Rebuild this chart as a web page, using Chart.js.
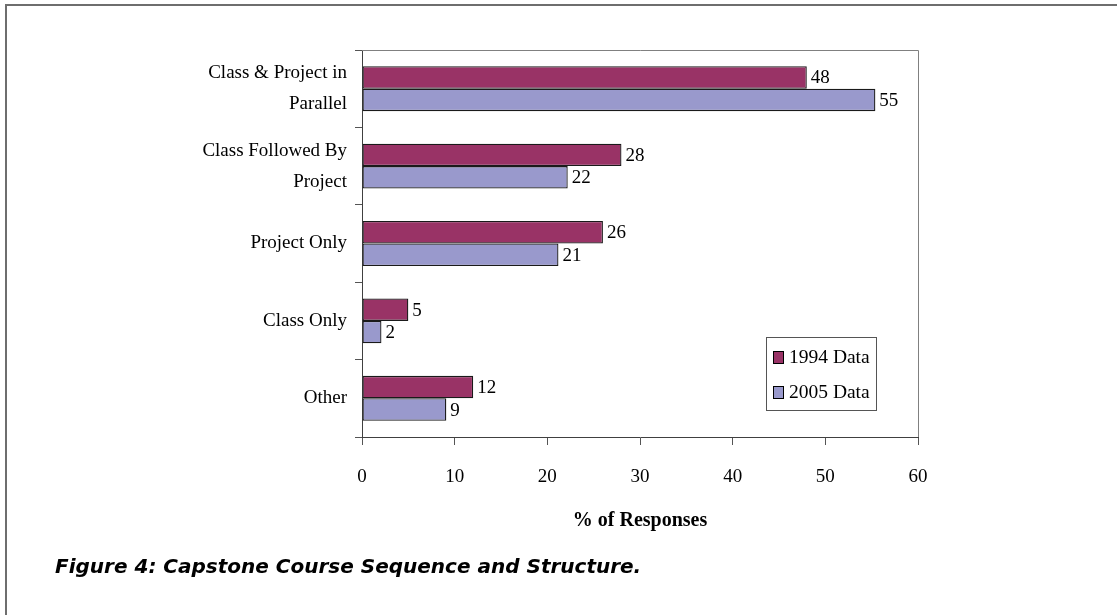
<!DOCTYPE html>
<html><head><meta charset="utf-8">
<script src="https://cdn.jsdelivr.net/npm/chart.js@4.4.0/dist/chart.umd.min.js"></script>
<style>html,body{margin:0;padding:0;background:#fff;} canvas{display:block}</style>
</head><body>
<canvas id="c" width="1117" height="615"></canvas>
<script>
const categories = [["Class & Project in", "Parallel"], ["Class Followed By", "Project"], "Project Only", "Class Only", "Other"];
const seriesNames = ["1994 Data", "2005 Data"];
const values1994 = [48, 28, 26, 5, 12];
const values2005 = [55.4, 22.2, 21.2, 2.1, 9.1];
const xMin = 0, xMax = 60, xStep = 10;
const xTitle = "% of Responses";
const caption = "Figure 4: Capstone Course Sequence and Structure.";
const seriesColors = ["#993366", "#9999CC"];

const SERIF = "'Liberation Serif', 'Times New Roman', serif";

const framePlugin = {
  id: 'frame',
  beforeDraw(chart) {
    const ctx = chart.ctx;
    ctx.save();
    ctx.fillStyle = '#fff';
    ctx.fillRect(0, 0, chart.width, chart.height);
    ctx.strokeStyle = '#6e6e6e';
    ctx.lineWidth = 2;
    ctx.beginPath();
    ctx.moveTo(6, chart.height);
    ctx.lineTo(6, 5);
    ctx.lineTo(chart.width, 5);
    ctx.stroke();
    ctx.restore();
  },
  afterDraw(chart) {
    const ctx = chart.ctx;
    const a = chart.chartArea;
    ctx.save();
    // plot area top/right border
    ctx.strokeStyle = '#808080';
    ctx.lineWidth = 1;
    ctx.beginPath();
    ctx.moveTo(a.left, a.top + 0.5);
    ctx.lineTo(a.right + 0.5, a.top + 0.5);
    ctx.lineTo(a.right + 0.5, a.bottom);
    ctx.stroke();
    // value labels
    ctx.fillStyle = '#000';
    ctx.font = "19px " + SERIF;
    ctx.textAlign = 'left';
    ctx.textBaseline = 'middle';
    chart.data.datasets.forEach((ds, di) => {
      const meta = chart.getDatasetMeta(di);
      meta.data.forEach((el, i) => {
        ctx.fillText(String(Math.round(ds.data[i])), el.x + 4, el.y + 1);
      });
    });
    // legend
    const lx = a.right - 152, ly = a.bottom - 100, lw = 110, lh = 73;
    ctx.strokeStyle = '#555';
    ctx.strokeRect(lx + 0.5, ly + 0.5, lw, lh);
    ctx.font = "19.5px " + SERIF;
    chart.data.datasets.forEach((ds, di) => {
      const cy = ly + 20 + di * 35;
      ctx.fillStyle = ds.backgroundColor;
      ctx.fillRect(lx + 7, cy - 6, 10, 12);
      ctx.strokeStyle = '#000';
      ctx.strokeRect(lx + 7.5, cy - 5.5, 10, 12);
      ctx.fillStyle = '#000';
      ctx.fillText(ds.label, lx + 23, cy + 1);
    });
    // caption
    ctx.font = "italic bold 20px 'DejaVu Sans', sans-serif";
    ctx.fillText(caption, 55, 568);
    ctx.restore();
  }
};

new Chart(document.getElementById('c'), {
  type: 'bar',
  data: {
    labels: categories,
    datasets: [
      { label: seriesNames[0], data: values1994, backgroundColor: seriesColors[0], borderColor: '#1a1a1a', borderWidth: 1.3, borderSkipped: false },
      { label: seriesNames[1], data: values2005, backgroundColor: seriesColors[1], borderColor: '#1a1a1a', borderWidth: 1.3, borderSkipped: false }
    ]
  },
  options: {
    responsive: false,
    animation: false,
    indexAxis: 'y',
    layout: { padding: { left: 0, top: 50, right: 199, bottom: 0 } },
    datasets: { bar: { categoryPercentage: 0.58, barPercentage: 1.0 } },
    plugins: { legend: { display: false }, tooltip: { enabled: false }, title: { display: false } },
    scales: {
      x: {
        min: xMin, max: xMax,
        ticks: { stepSize: xStep, color: '#000', padding: 21, font: { family: SERIF, size: 19 } },
        grid: { drawOnChartArea: false, drawTicks: true, tickLength: 8, color: '#555' },
        border: { display: true, color: '#404040', width: 1 },
        title: { display: true, text: xTitle, color: '#000', font: { family: SERIF, size: 20, weight: 'bold', lineHeight: 1.2 }, padding: { top: 82, bottom: 82 } },
        afterFit(s) { s.height = 178; }
      },
      y: {
        ticks: { color: '#000', padding: 8, font: { family: SERIF, size: 19, lineHeight: 1.63 } },
        grid: { drawOnChartArea: false, drawTicks: true, tickLength: 7, color: '#555', offset: true },
        border: { display: true, color: '#404040', width: 1 },
        afterFit(s) { s.width = 362; }
      }
    }
  },
  plugins: [framePlugin]
});
</script>
</body></html>
